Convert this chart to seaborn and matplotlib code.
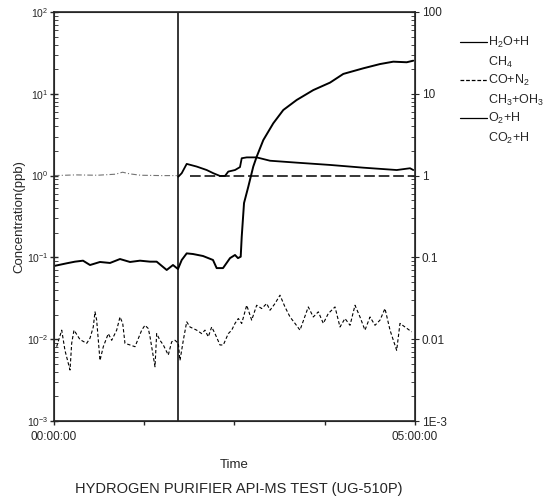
#!/usr/bin/env python3
"""Hydrogen purifier API-MS test: impurity concentrations over time."""

import matplotlib
matplotlib.use("Agg")
import matplotlib.pyplot as plt
import seaborn as sns
from matplotlib.lines import Line2D
from matplotlib.ticker import FixedLocator, LogLocator, NullFormatter

# time in hours (00:00:00 .. 05:00:00), concentration in ppb
SWITCH_T = 1.717

H2O_T = [0.00, 0.176, 0.291, 0.402, 0.499, 0.637, 0.776, 0.914, 1.053, 1.191,
         1.330, 1.422, 1.561, 1.648, 1.717, 1.769, 1.838, 1.925, 2.064, 2.202,
         2.253, 2.341, 2.438, 2.507, 2.548, 2.586, 2.600, 2.632, 2.691, 2.760,
         2.807, 2.899, 3.037, 3.176, 3.361, 3.591, 3.823, 4.007, 4.284, 4.515,
         4.699, 4.885, 4.976]
H2O_VAL = [0.0785, 0.0847, 0.0887, 0.0912, 0.0807, 0.0879, 0.0855, 0.0955,
           0.0879, 0.0912, 0.0887, 0.0887, 0.0702, 0.0807, 0.0721, 0.0929,
           0.112, 0.110, 0.104, 0.093, 0.074, 0.074, 0.098, 0.107, 0.098,
           0.102, 0.179, 0.462, 0.731, 1.29, 1.70, 2.72, 4.36, 6.34, 8.40,
           11.1, 13.7, 17.5, 20.5, 23.1, 24.7, 24.3, 25.4]

CO_PRE_T = [0.00, 0.30, 0.60, 0.85, 0.95, 1.05, 1.20, 1.50, 1.70]
CO_PRE_VAL = [1.00, 1.02, 1.01, 1.04, 1.10, 1.05, 1.01, 1.00, 1.00]

CO_T = [1.722, 1.769, 1.838, 1.976, 2.115, 2.206, 2.299, 2.368, 2.414, 2.507,
        2.576, 2.600, 2.669, 2.807, 2.992, 3.361, 3.823, 4.284, 4.747, 4.931,
        4.976]
CO_VAL = [0.97, 1.07, 1.39, 1.29, 1.17, 1.07, 0.99, 0.99, 1.12, 1.17, 1.27,
          1.63, 1.67, 1.67, 1.52, 1.44, 1.35, 1.25, 1.17, 1.23, 1.17]

REF_T = [1.88, 5.00]
REF_VAL = [1.0, 1.0]

O2_T = [0.037, 0.107, 0.152, 0.222, 0.245, 0.277, 0.360, 0.453, 0.499, 0.544,
        0.568, 0.591, 0.614, 0.637, 0.683, 0.752, 0.799, 0.868, 0.914, 0.952,
        0.983, 1.053, 1.122, 1.168, 1.215, 1.260, 1.306, 1.330, 1.399, 1.422,
        1.468, 1.514, 1.583, 1.630, 1.676, 1.722, 1.745, 1.791, 1.838, 1.884,
        1.976, 2.046, 2.091, 2.137, 2.184, 2.230, 2.299, 2.345, 2.414, 2.461,
        2.507, 2.553, 2.600, 2.669, 2.738, 2.807, 2.877, 2.946, 2.992, 3.061,
        3.130, 3.199, 3.269, 3.338, 3.407, 3.522, 3.591, 3.661, 3.730, 3.799,
        3.892, 3.961, 4.030, 4.100, 4.169, 4.238, 4.307, 4.377, 4.446, 4.515,
        4.584, 4.654, 4.746, 4.792, 4.861, 4.954]
O2_VAL = [0.0081, 0.0129, 0.0073, 0.0042, 0.0089, 0.0129, 0.0099, 0.0089,
          0.0103, 0.0141, 0.0216, 0.0171, 0.0097, 0.0055, 0.0081, 0.0117,
          0.0097, 0.0129, 0.0187, 0.0156, 0.0089, 0.0085, 0.0081, 0.0102,
          0.0129, 0.0148, 0.0135, 0.0107, 0.0046, 0.0117, 0.0097, 0.0085,
          0.0064, 0.0093, 0.0097, 0.0089, 0.0055, 0.0097, 0.0163, 0.0141,
          0.0129, 0.0117, 0.0129, 0.0107, 0.0141, 0.0117, 0.0085, 0.0085,
          0.0117, 0.0129, 0.0156, 0.0179, 0.0156, 0.0260, 0.0171, 0.0260,
          0.0237, 0.0273, 0.0226, 0.0273, 0.0345, 0.0248, 0.0187, 0.0156,
          0.0129, 0.0248, 0.0187, 0.0216, 0.0156, 0.0206, 0.0248, 0.0141,
          0.0179, 0.0148, 0.0260, 0.0187, 0.0129, 0.0187, 0.0148, 0.0171,
          0.0237, 0.0129, 0.0073, 0.0156, 0.0141, 0.0123]

LEFT_LABELS = [r"$10^{-3}$", r"$10^{-2}$", r"$10^{-1}$", r"$10^{0}$",
               r"$10^{1}$", r"$10^{2}$"]
RIGHT_LABELS = ["1E-3", "0.01", "0.1", "1", "10", "100"]
DECADES = [1e-3, 1e-2, 1e-1, 1, 10, 100]
LEGEND = [("H$_2$O+H", "CH$_4$", "-"),
          ("CO+N$_2$", "CH$_3$+OH$_3$", (0, (3, 1.5))),
          ("O$_2$+H", "CO$_2$+H", "-")]

sns.set_style("ticks")
plt.rcParams['font.family'] = ['Liberation Sans', 'DejaVu Sans']
plt.rcParams['mathtext.fontset'] = 'custom'
plt.rcParams['mathtext.rm'] = 'Liberation Sans'
plt.rcParams['mathtext.it'] = 'Liberation Sans'


def main():
    fig = plt.figure(figsize=(5.47, 5.00), dpi=100)
    ax = fig.add_axes([0.0987, 0.158, 0.660, 0.818])

    sns.lineplot(x=O2_T, y=O2_VAL, ax=ax, color="black", lw=0.8,
                 linestyle=(0, (3, 2)))
    sns.lineplot(x=CO_PRE_T, y=CO_PRE_VAL, ax=ax, color="0.45", lw=0.8,
                 linestyle=(0, (5, 2, 1, 2)))
    sns.lineplot(x=REF_T, y=REF_VAL, ax=ax, color="black", lw=1.1,
                 linestyle=(0, (7, 2.5)))
    sns.lineplot(x=CO_T, y=CO_VAL, ax=ax, color="black", lw=1.3)
    sns.lineplot(x=H2O_T, y=H2O_VAL, ax=ax, color="black", lw=1.4)
    ax.axvline(SWITCH_T, color="black", lw=1.1)

    ax.set_yscale("log")
    ax.set_ylim(1e-3, 100)
    ax.set_xlim(0, 5)
    ax.set_xticks([0, 1.25, 2.5, 3.75, 5])
    ax.set_xticklabels(["00:00:00", "", "", "", "05:00:00"], fontsize=8.5)
    ax.set_yticks(DECADES)
    ax.set_yticklabels(LEFT_LABELS, fontsize=7.5)
    ax.yaxis.set_minor_locator(LogLocator(base=10, subs=range(2, 10)))
    ax.yaxis.set_minor_formatter(NullFormatter())
    ax.tick_params(axis="y", which="major", direction="inout", length=6,
                   width=1, pad=1)
    ax.tick_params(axis="y", which="minor", direction="in", length=3)
    ax.tick_params(axis="x", direction="out", length=3, width=1, pad=4)
    ax.set_xlabel("Time", fontsize=9.5, labelpad=12)
    ax.set_ylabel("Concentration(ppb)", fontsize=9.5)
    ax.yaxis.set_label_coords(-0.08, 0.5)
    for sp in ax.spines.values():
        sp.set_linewidth(1.2)

    ax2 = ax.twinx()
    ax2.set_yscale("log")
    ax2.set_ylim(1e-3, 100)
    ax2.yaxis.set_major_locator(FixedLocator(DECADES))
    ax2.set_yticklabels(RIGHT_LABELS, fontsize=8.5)
    ax2.yaxis.set_minor_locator(LogLocator(base=10, subs=range(2, 10)))
    ax2.yaxis.set_minor_formatter(NullFormatter())
    ax2.tick_params(axis="y", which="major", direction="inout", length=6,
                    pad=2)
    ax2.tick_params(axis="y", which="minor", direction="in", length=3)

    # legend drawn by hand, second species on its own line under each entry
    for i, (lab1, lab2, ls) in enumerate(LEGEND):
        y = 0.916 - i * 0.076
        fig.add_artist(Line2D([0.841, 0.890], [y, y], color="black",
                              lw=0.9, linestyle=ls))
        fig.text(0.893, y, lab1, fontsize=9, va="center")
        fig.text(0.893, y - 0.040, lab2, fontsize=9, va="center")

    fig.text(0.437, 0.022, "HYDROGEN PURIFIER API-MS TEST (UG-510P)",
             fontsize=10.5, ha="center", va="center")
    fig.savefig("out.png", dpi=100)


if __name__ == '__main__':
    main()
